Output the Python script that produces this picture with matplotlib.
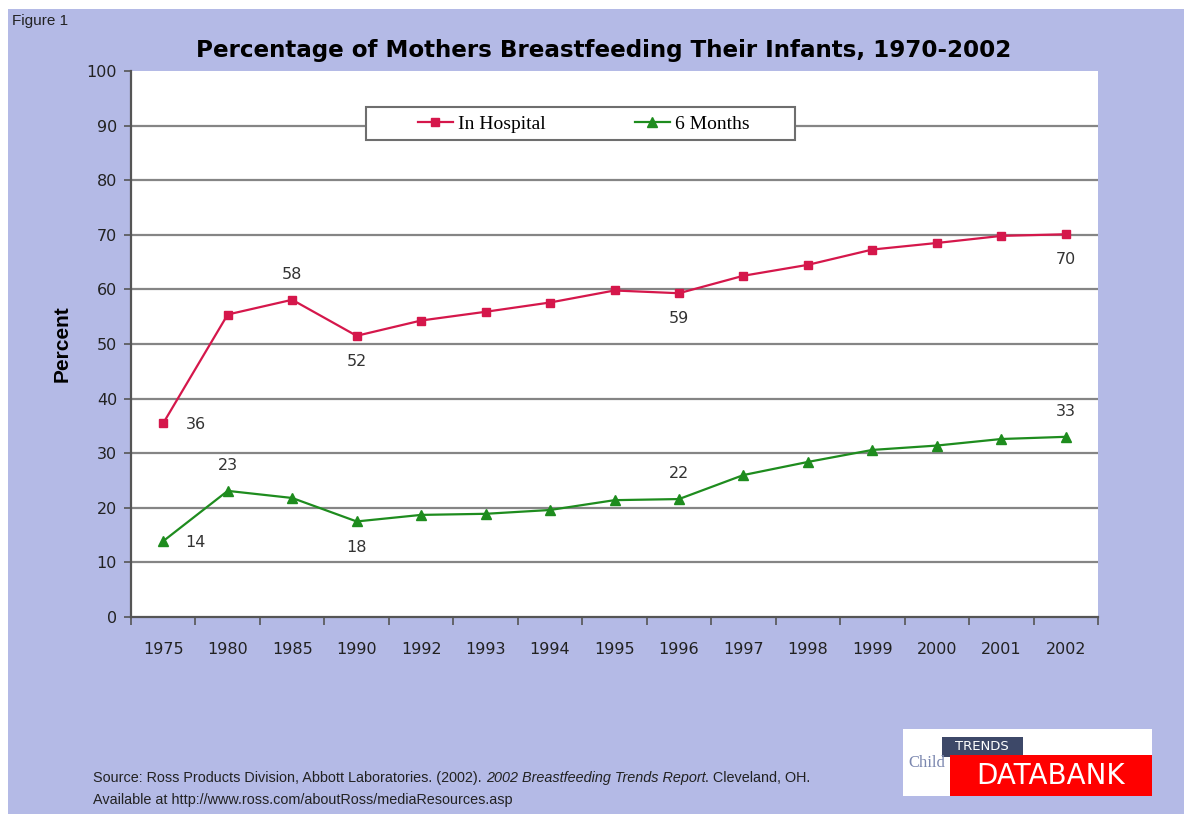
import matplotlib
matplotlib.use("Agg")
import matplotlib.pyplot as plt
from matplotlib.patches import Rectangle
import numpy as np

years = ["1975", "1980", "1985", "1990", "1992", "1993", "1994", "1995",
         "1996", "1997", "1998", "1999", "2000", "2001", "2002"]
in_hospital = [35.5, 55.4, 58.1, 51.5, 54.3, 55.9, 57.6, 59.8, 59.3, 62.5,
               64.5, 67.3, 68.5, 69.8, 70.1]
six_months = [13.9, 23.1, 21.8, 17.5, 18.7, 18.9, 19.6, 21.4, 21.6, 26.0,
              28.4, 30.6, 31.4, 32.6, 33.0]
# labelled points: (index, text, placement)
hosp_labels = [(0, "36", "right"), (2, "58", "above"), (3, "52", "below"),
               (8, "59", "below"), (14, "70", "below")]
six_labels = [(0, "14", "right"), (1, "23", "above"), (3, "18", "below"),
              (8, "22", "above"), (14, "33", "above")]
yticks = list(range(0, 101, 10))

W, H = 1184, 814
BG = "#B4BAE6"
RED = "#D5174B"
GREEN = "#1E8C1E"

fig = plt.figure(figsize=(W / 100, H / 100), dpi=100)
fig.patch.set_facecolor("white")
fig.patches.append(Rectangle((8 / W, 0), 1, 1 - 9 / H, transform=fig.transFigure,
                             facecolor=BG, edgecolor="none", zorder=-10))

ax = fig.add_axes([131 / W, 1 - 617 / H, 967 / W, 546 / H])
ax.set_facecolor("white")
x = np.arange(len(years))
ax.set_xlim(-0.5, len(years) - 0.5)
ax.set_ylim(0, 100)

for v in yticks[1:-1]:
    ax.axhline(v, color="#858585", lw=1.6, zorder=1)

ax.plot(x, in_hospital, color=RED, lw=1.6, marker="s", ms=5.5,
        label="In Hospital", zorder=3)
ax.plot(x, six_months, color=GREEN, lw=1.6, marker="^", ms=6.5,
        label="6 Months", zorder=3)

lab_font = dict(family="DejaVu Sans", fontsize=11.5, color="#333333")
def put_labels(series, labels):
    for i, txt, where in labels:
        if where == "right":
            off, ha, va = (16, -1), "left", "center"
        elif where == "above":
            off, ha, va = (0, 13), "center", "bottom"
        else:
            off, ha, va = (0, -13), "center", "top"
        ax.annotate(txt, (x[i], series[i]), xytext=off, textcoords="offset points",
                    ha=ha, va=va, **lab_font)
put_labels(in_hospital, hosp_labels)
put_labels(six_months, six_labels)

for s in ["top", "right"]:
    ax.spines[s].set_visible(False)
for s in ["left", "bottom"]:
    ax.spines[s].set_color("#555555")
    ax.spines[s].set_linewidth(1.6)

ax.set_yticks(yticks)
ax.set_yticklabels([str(v) for v in yticks])
ax.tick_params(axis="y", direction="out", length=5, width=1.2, color="#555555",
               pad=5, labelsize=11.5, labelcolor="#222222")
ax.set_xticks(x)
ax.set_xticklabels(years)
ax.tick_params(axis="x", which="major", length=0, pad=18, labelsize=11.5,
               labelcolor="#222222")
ax.set_xticks(np.arange(-0.5, len(years), 1.0), minor=True)
ax.tick_params(axis="x", which="minor", direction="out", length=6, width=1.2,
               color="#555555")
for t in ax.get_xticklabels() + ax.get_yticklabels():
    t.set_family("DejaVu Sans")

ax.set_ylabel("Percent", family="Liberation Sans", fontsize=15,
              fontweight="bold", labelpad=11)

# legend
ax.add_patch(Rectangle(((366 - 131) / 967, (617 - 140) / 546), 429 / 967, 33 / 546,
                       transform=ax.transAxes, facecolor="white",
                       edgecolor="#6E6E6E", lw=1.5, zorder=4))
leg = ax.legend(loc="center", bbox_to_anchor=((583.5 - 131) / 967, (617 - 124) / 546),
                ncol=2, frameon=False, prop=dict(family="Liberation Serif", size=14),
                handlelength=1.8, handletextpad=0.25, columnspacing=4.6,
                borderpad=0.2)
leg.set_zorder(5)

fig.text(604 / W, 1 - 50 / H, "Percentage of Mothers Breastfeeding Their Infants, 1970-2002",
         ha="center", va="center", family="DejaVu Sans", fontsize=16.6,
         fontweight="bold", color="black")
fig.text(12 / W, 1 - 21 / H, "Figure 1", ha="left", va="center",
         family="Liberation Sans", fontsize=11, color="#222222")

# source lines with mixed styles
fig.canvas.draw()
renderer = fig.canvas.get_renderer()
parts = [("Source: Ross Products Division, Abbott Laboratories. (2002). ", "normal"),
         ("2002 Breastfeeding Trends Report", "italic"),
         (". Cleveland, OH.", "normal")]
xpos = 93
for txt, style in parts:
    t = fig.text(xpos / W, 1 - 778 / H, txt, ha="left", va="center",
                 family="Liberation Sans", fontsize=10.4, style=style, color="#222222")
    bb = t.get_window_extent(renderer)
    xpos += bb.width
fig.text(93 / W, 1 - 800 / H, "Available at http://www.ross.com/aboutRoss/mediaResources.asp",
         ha="left", va="center", family="Liberation Sans", fontsize=10.4, color="#222222")

# logo
fig.patches.append(Rectangle((903 / W, 1 - 796 / H), 249 / W, 67 / H,
                             transform=fig.transFigure, facecolor="white",
                             edgecolor="none"))
fig.patches.append(Rectangle((942 / W, 1 - 757 / H), 81 / W, 20 / H,
                             transform=fig.transFigure, facecolor="#3D4868",
                             edgecolor="none"))
fig.patches.append(Rectangle((950 / W, 1 - 796 / H), 202 / W, 41 / H,
                             transform=fig.transFigure, facecolor="#FF0000",
                             edgecolor="none"))
fig.text(982 / W, 1 - 747 / H, "TRENDS", ha="center", va="center",
         family="DejaVu Sans", fontsize=9.5, color="white")
fig.text(927 / W, 1 - 763 / H, "Child", ha="center", va="center",
         family="Liberation Serif", fontsize=12, color="#7C88B0")
fig.text(1051 / W, 1 - 776 / H, "DATABANK", ha="center", va="center",
         family="DejaVu Sans", fontsize=20, color="white")

fig.savefig("out.png", dpi=100, facecolor=fig.get_facecolor())
